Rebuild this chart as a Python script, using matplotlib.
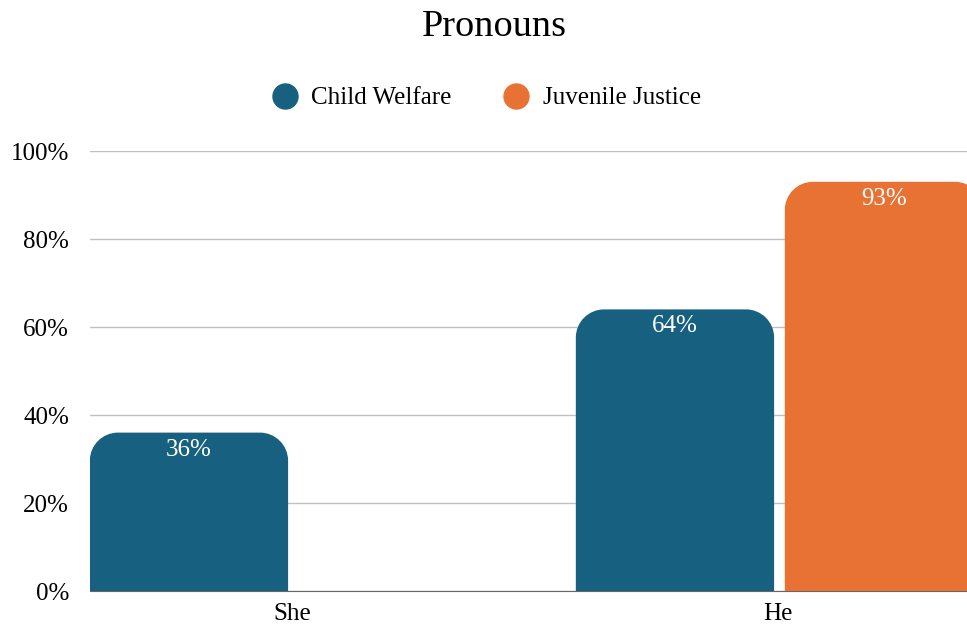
import numpy as np
import matplotlib
matplotlib.use("Agg")
import matplotlib.pyplot as plt
from matplotlib.path import Path
from matplotlib.patches import PathPatch
from matplotlib.lines import Line2D

plt.rcParams['font.family'] = ['Liberation Serif', 'DejaVu Serif']

categories = ['She', 'He']
series_names = ['Child Welfare', 'Juvenile Justice']
child_welfare = [0.36, 0.64]
juvenile_justice = [0.0, 0.93]
colors = ['#17607f', '#e87233']
yticks = [0, 0.2, 0.4, 0.6, 0.8, 1.0]


def round_top(ax, rect, rx, ry, color):
    # swap a plain bar for one with rounded top corners
    x, y = rect.get_x(), rect.get_y()
    w, h = rect.get_width(), rect.get_height()
    rect.remove()
    if h <= 0:
        return
    ry = min(ry, h)
    k = 0.5523
    verts = [
        (x, y), (x, y + h - ry),
        (x, y + h - ry + k * ry), (x + rx - k * rx, y + h), (x + rx, y + h),
        (x + w - rx, y + h),
        (x + w - rx + k * rx, y + h), (x + w, y + h - ry + k * ry), (x + w, y + h - ry),
        (x + w, y), (x, y),
    ]
    codes = [Path.MOVETO, Path.LINETO,
             Path.CURVE4, Path.CURVE4, Path.CURVE4,
             Path.LINETO,
             Path.CURVE4, Path.CURVE4, Path.CURVE4,
             Path.LINETO, Path.CLOSEPOLY]
    ax.add_patch(PathPatch(Path(verts, codes), facecolor=color, edgecolor='none', zorder=3))


fig = plt.figure(figsize=(9.67, 6.26), dpi=100)
ax = fig.add_axes([90 / 967, 35 / 626, 893 / 967, 440 / 626])

x = np.arange(len(categories))
width = 0.408
offsets = [-0.212, 0.218]

for vals, off, col in zip([child_welfare, juvenile_justice], offsets, colors):
    bars = ax.bar(x + off, vals, width, color=col, zorder=3)
    for rect, v in zip(bars, vals):
        if v > 0:
            ax.annotate(f'{v * 100:.0f}%', (rect.get_x() + rect.get_width() / 2, v),
                        xytext=(0, -17), textcoords='offset pixels',
                        ha='center', va='center', color='white', fontsize=18, zorder=4)
        round_top(ax, rect, 0.058, 0.064, col)

ax.set_xlim(-0.4156, 1.4218)
ax.set_ylim(0, 1)
ax.set_xticks(x)
ax.set_xticklabels(categories, fontsize=18)
ax.set_yticks(yticks)
ax.set_yticklabels([f'{int(t * 100)}%' for t in yticks], fontsize=18)
ax.tick_params(axis='both', length=0)
ax.tick_params(axis='y', pad=15)
ax.tick_params(axis='x', pad=9)
ax.grid(axis='y', color='#c0c0c0', linewidth=1, zorder=0)
for s in ['top', 'right', 'left']:
    ax.spines[s].set_visible(False)
ax.spines['bottom'].set_color('#666666')
ax.spines['bottom'].set_zorder(2)

fig.text(0.511, 1 - 27 / 626, 'Pronouns', ha='center', va='center', fontsize=27.5)

handles = [Line2D([], [], marker='o', linestyle='none', markersize=18,
                  markerfacecolor=c, markeredgecolor=c) for c in colors]
fig.legend(handles, series_names, loc='center', bbox_to_anchor=(0.503, 1 - 98 / 626),
           ncol=2, frameon=False, fontsize=18, handlelength=1.0,
           handletextpad=0.55, columnspacing=2.1)

fig.savefig('out.png', dpi=100)
